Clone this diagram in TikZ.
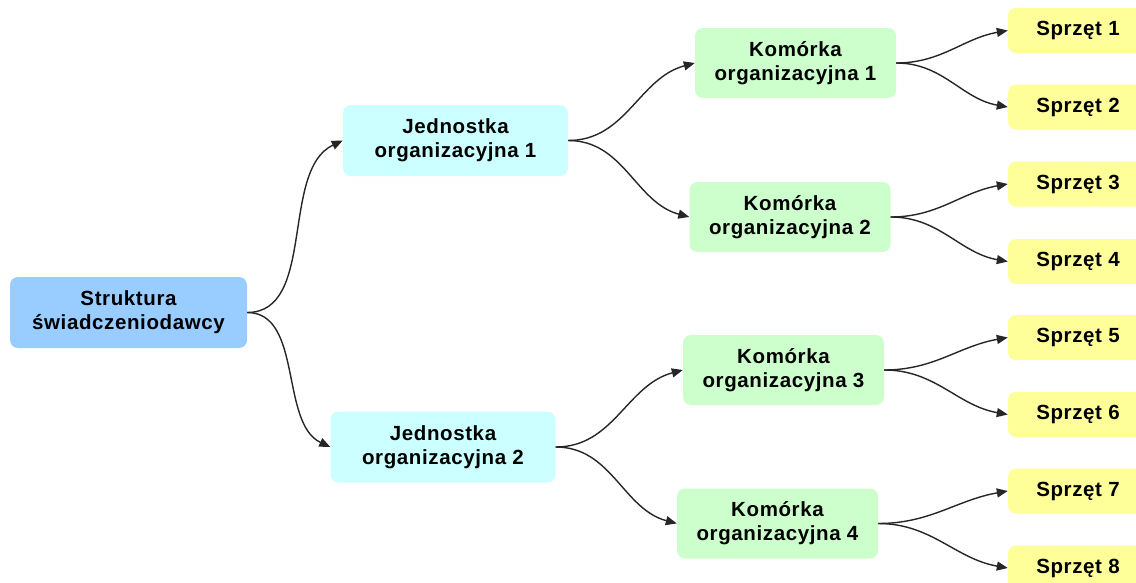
\documentclass[tikz,border=0pt]{standalone}
\usepackage{fontspec}
\setmainfont{Liberation Sans}[LetterSpace=3]
\usetikzlibrary{arrows.meta}
\definecolor{cRoot}{HTML}{99CCFF}
\definecolor{cUnit}{HTML}{CCFFFF}
\definecolor{cCell}{HTML}{CCFFCC}
\definecolor{cEq}{HTML}{FFFF99}
\tikzset{
  box/.style={rounded corners=8pt, draw=none, align=center, inner sep=0pt,
    font=\fontsize{20.5}{24}\selectfont\bfseries},
  rootbox/.style={box, fill=cRoot, minimum width=237pt, minimum height=71pt},
  unitbox/.style={box, fill=cUnit, minimum width=225pt, minimum height=71pt},
  cellbox/.style={box, fill=cCell, minimum width=201pt, minimum height=70pt},
  eqbox/.style={box, fill=cEq, minimum width=140pt, minimum height=45pt},
  link/.style={line width=1.4pt, draw=black!85, -{Triangle[length=11pt,width=9pt]}}
}
\begin{document}
\begin{tikzpicture}[x=1pt,y=-1pt]
\useasboundingbox (0,0) rectangle (1136,582);
\node[rootbox] (s) at (128.5,312.5) {Struktura\\świadczeniodawcy};
\node[unitbox] (j1) at (455.5,140.5) {Jednostka\\organizacyjna 1};
\node[unitbox] (j2) at (443,447) {Jednostka\\organizacyjna 2};
\node[cellbox] (k1) at (795.5,63) {Komórka\\organizacyjna 1};
\node[cellbox] (k2) at (790,217) {Komórka\\organizacyjna 2};
\node[cellbox] (k3) at (783.5,370) {Komórka\\organizacyjna 3};
\node[cellbox] (k4) at (777.5,523.5) {Komórka\\organizacyjna 4};
\node[eqbox] (e1) at (1078,30.5) {Sprzęt 1};
\node[eqbox] (e2) at (1078,107) {Sprzęt 2};
\node[eqbox] (e3) at (1078,184) {Sprzęt 3};
\node[eqbox] (e4) at (1078,261.5) {Sprzęt 4};
\node[eqbox] (e5) at (1078,337.5) {Sprzęt 5};
\node[eqbox] (e6) at (1078,414.5) {Sprzęt 6};
\node[eqbox] (e7) at (1078,491) {Sprzęt 7};
\node[eqbox] (e8) at (1078,568) {Sprzęt 8};
\draw[link] (s.east) to[out=0,in=205,looseness=0.9] (j1.west);
\draw[link] (s.east) to[out=0,in=155,looseness=0.9] (j2.west);
\draw[link] (j1.east) to[out=0,in=195] (k1.west);
\draw[link] (j1.east) to[out=0,in=165] (k2.west);
\draw[link] (j2.east) to[out=0,in=195] (k3.west);
\draw[link] (j2.east) to[out=0,in=165] (k4.west);
\draw[link] (k1.east) to[out=0,in=190] (e1.west);
\draw[link] (k1.east) to[out=0,in=170] (e2.west);
\draw[link] (k2.east) to[out=0,in=190] (e3.west);
\draw[link] (k2.east) to[out=0,in=170] (e4.west);
\draw[link] (k3.east) to[out=0,in=190] (e5.west);
\draw[link] (k3.east) to[out=0,in=170] (e6.west);
\draw[link] (k4.east) to[out=0,in=190] (e7.west);
\draw[link] (k4.east) to[out=0,in=170] (e8.west);
\end{tikzpicture}
\end{document}
